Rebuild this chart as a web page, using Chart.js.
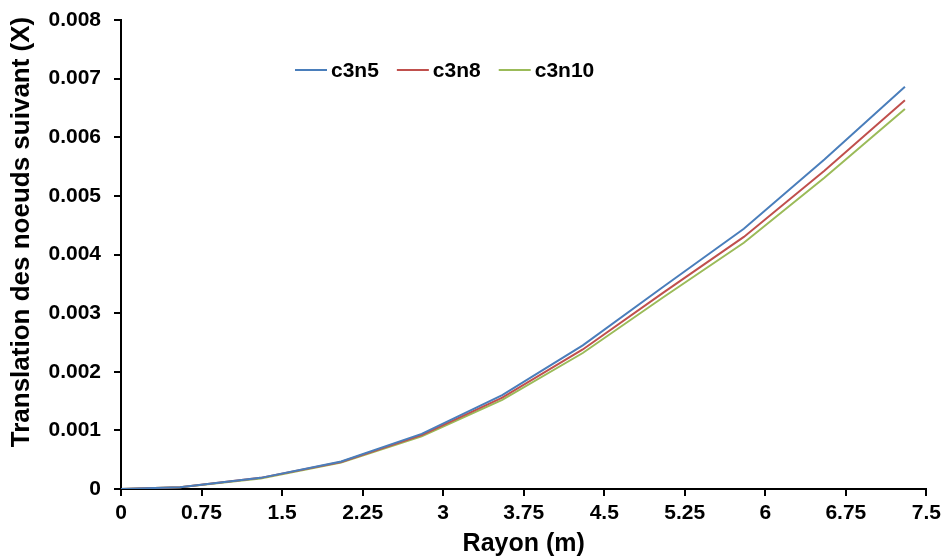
<!DOCTYPE html>
<html>
<head>
<meta charset="utf-8">
<script src="https://cdn.jsdelivr.net/npm/chart.js@4.4.1/dist/chart.umd.min.js"></script>
<style>
  body { margin: 0; background: #fff; }
  #wrap { width: 946px; height: 560px; }
</style>
</head>
<body>
<div id="wrap"><canvas id="rayonChart" width="946" height="560"></canvas></div>
<script>
// rayon des noeuds (m) et translation pour chaque cas
const rayon = [0, 0.55, 1.3, 2.05, 2.8, 3.55, 4.3, 5.05, 5.8, 6.55, 7.3];
const c3n5 = [0, 0.00003, 0.00019, 0.00047, 0.00094, 0.00160, 0.00245, 0.00345, 0.00444, 0.00562, 0.00686];
const c3n8 = [0, 0.00003, 0.00019, 0.00046, 0.00092, 0.00156, 0.00238, 0.00335, 0.00430, 0.00543, 0.00663];
const c3n10 = [0, 0.00003, 0.00018, 0.00045, 0.00090, 0.00152, 0.00232, 0.00327, 0.00420, 0.00531, 0.00648];

const series = [
  { label: 'c3n5', data: c3n5, color: '#4a7ebb' },
  { label: 'c3n8', data: c3n8, color: '#c0504d' },
  { label: 'c3n10', data: c3n10, color: '#9bbb59' }
];

const yTitle = 'Translation des noeuds suivant (X)';
const fontFam = '"Liberation Sans", Arial, sans-serif';

// legende dans la zone du graphique + titre de l'axe vertical
const extras = {
  id: 'extras',
  afterDraw(chart) {
    const ctx = chart.ctx;
    ctx.save();
    ctx.font = 'bold 21px ' + fontFam;
    ctx.textBaseline = 'middle';
    let x = 295;
    const y = 70;
    chart.data.datasets.forEach(ds => {
      ctx.strokeStyle = ds.borderColor;
      ctx.lineWidth = 2;
      ctx.beginPath();
      ctx.moveTo(x, y);
      ctx.lineTo(x + 32, y);
      ctx.stroke();
      ctx.fillStyle = '#000';
      ctx.fillText(ds.label, x + 36, y + 1);
      x += 36 + ctx.measureText(ds.label).width + 18;
    });

    ctx.translate(22, 232);
    ctx.rotate(-Math.PI / 2);
    ctx.font = 'bold 26px ' + fontFam;
    ctx.textAlign = 'center';
    ctx.fillText(yTitle, 0, 0);
    ctx.restore();
  }
};

new Chart(document.getElementById('rayonChart'), {
  type: 'line',
  data: {
    datasets: series.map(s => ({
      label: s.label,
      data: rayon.map((r, i) => ({ x: r, y: s.data[i] })),
      borderColor: s.color,
      backgroundColor: s.color,
      borderWidth: 2,
      pointRadius: 0,
      tension: 0
    }))
  },
  options: {
    responsive: false,
    animation: false,
    layout: { padding: { left: 6, right: 15, top: 20, bottom: 1 } },
    plugins: {
      legend: { display: false },
      tooltip: { enabled: false }
    },
    scales: {
      x: {
        type: 'linear',
        min: 0,
        max: 7.5,
        ticks: {
          stepSize: 0.75,
          color: '#000',
          font: { family: fontFam, size: 21, weight: 'bold' },
          padding: 5,
          maxRotation: 0,
          autoSkip: false,
          callback: v => String(+v.toFixed(2))
        },
        grid: { drawOnChartArea: false, drawTicks: true, tickLength: 7, color: '#000', lineWidth: 2 },
        border: { color: '#000', width: 2 },
        title: {
          display: true,
          text: 'Rayon (m)',
          color: '#000',
          font: { family: fontFam, size: 25, weight: 'bold' },
          padding: { top: 4, bottom: 0 }
        },
        afterFit(scale) { scale.height = 70; }
      },
      y: {
        min: 0,
        max: 0.008,
        ticks: {
          stepSize: 0.001,
          color: '#000',
          font: { family: fontFam, size: 21, weight: 'bold' },
          padding: 13,
          callback: v => v === 0 ? '0' : v.toFixed(3)
        },
        grid: { drawOnChartArea: false, drawTicks: true, tickLength: 7, color: '#000', lineWidth: 2 },
        border: { color: '#000', width: 2 },
        afterFit(scale) {
          scale.width = 115;
          scale.paddingTop = 0;
          scale.paddingBottom = 0;
        }
      }
    }
  },
  plugins: [extras]
});
</script>
</body>
</html>
